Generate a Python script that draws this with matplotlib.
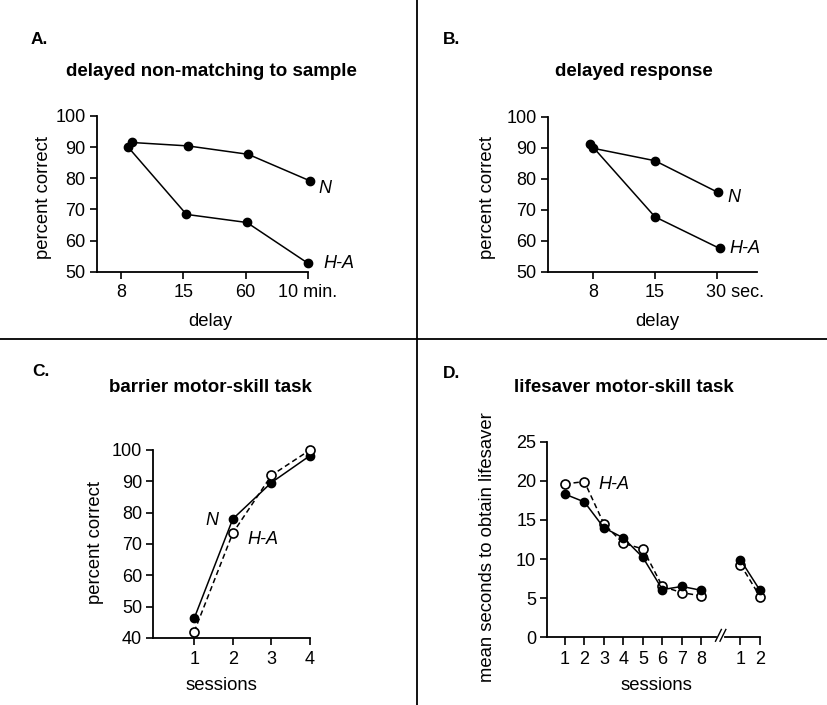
import matplotlib
matplotlib.use("Agg")
import matplotlib.pyplot as plt
import matplotlib.transforms as mtransforms
from matplotlib.lines import Line2D

plt.rcParams["font.family"] = ["Liberation Sans", "DejaVu Sans"]
plt.rcParams["font.size"] = 13

# ---- data ----
# A. delayed non-matching to sample
A_ticklabels = ["8", "15", "60", "10 min."]
A_n_x = [1.17, 2.07, 3.04, 4.04]
A_n = [91.5, 90.4, 87.7, 79.1]
A_ha_x = [1.11, 2.05, 3.02, 4.0]
A_ha = [90.1, 68.4, 65.8, 52.7]

# B. delayed response
B_ticklabels = ["8", "15", "30 sec."]
B_n_x = [1.0, 2.0, 3.02]
B_n = [89.8, 85.8, 75.6]
B_ha_x = [0.95, 2.0, 3.05]
B_ha = [91.2, 67.7, 57.5]

# C. barrier motor-skill task
C_sessions = [1, 2, 3, 4]
C_n = [46.3, 78.0, 89.6, 98.2]
C_ha = [42.0, 73.5, 91.9, 100.0]

# D. lifesaver motor-skill task (training sessions, then retention sessions)
D_train = [1, 2, 3, 4, 5, 6, 7, 8]
D_n_train = [18.3, 17.3, 14.0, 12.7, 10.2, 6.1, 6.5, 6.0]
D_ha_train = [19.6, 19.9, 14.5, 12.0, 11.3, 6.5, 5.7, 5.3]
D_retest = [10, 11]
D_retest_labels = ["1", "2"]
D_n_retest = [9.9, 6.0]
D_ha_retest = [9.3, 5.2]

W, H = 827, 705
fig = plt.figure(figsize=(W / 100, H / 100), dpi=100)

TICK_FS = 13
LABEL_FS = 13.3


def fx(px):
    return px / W


def fy(py):
    return 1 - py / H


def make_axes(left, top, right, bottom):
    ax = fig.add_axes([fx(left), fy(bottom), fx(right) - fx(left), fy(top) - fy(bottom)])
    for s in ("top", "right"):
        ax.spines[s].set_visible(False)
    for s in ("left", "bottom"):
        ax.spines[s].set_linewidth(1.3)
    ax.tick_params(direction="out", length=5, width=1.2, labelsize=TICK_FS, pad=3)
    ax.tick_params(axis="x", pad=4)
    ax.patch.set_alpha(0)
    return ax


def place_labels(ax, xl, xpos, yl, ypos):
    ax.set_xlabel(xl, fontsize=LABEL_FS)
    ax.xaxis.set_label_coords(fx(xpos[0]), fy(xpos[1]), transform=fig.transFigure)
    ax.xaxis.label.set_va("center")
    ax.set_ylabel(yl, fontsize=LABEL_FS)
    ax.yaxis.set_label_coords(fx(ypos[0]), fy(ypos[1]), transform=fig.transFigure)
    ax.yaxis.label.set_va("center")


def tag(ax, x, y, text, dx, dy, ha="left"):
    """Italic group label placed next to a data point, offset in points."""
    ax.annotate(text, (x, y), xytext=(dx, dy), textcoords="offset points",
                ha=ha, va="center", fontsize=13, style="italic", annotation_clip=False)


filled = dict(color="black", lw=1.1, marker="o", ms=6, mfc="black", mec="black", clip_on=False)
hollow = dict(color="black", lw=1.1, ls=(0, (3.5, 2.2)), marker="o", ms=6.5, mfc="white",
              mec="black", mew=1.2, clip_on=False)

# ---- panel A ----
axA = make_axes(96.7, 116, 308, 271.7)
axA.plot(A_n_x, A_n, **filled)
axA.plot(A_ha_x, A_ha, **filled)
axA.set_xlim(0.61, 4.0)
axA.set_ylim(50, 100)
axA.set_yticks([50, 60, 70, 80, 90, 100])
axA.set_xticks([1, 2, 3, 4])
axA.set_xticklabels(A_ticklabels)
place_labels(axA, "delay", (210, 322), "percent correct", (43, 197))
tag(axA, A_n_x[-1], A_n[-1], "N", 6, -5)
tag(axA, A_ha_x[-1], A_ha[-1], "H-A", 11, 0)

# ---- panel B ----
axB = make_axes(547.7, 116.7, 757.3, 271.7)
axB.plot(B_n_x, B_n, **filled)
axB.plot(B_ha_x, B_ha, **filled)
axB.set_xlim(0.26, 3.66)
axB.set_ylim(50, 100)
axB.set_yticks([50, 60, 70, 80, 90, 100])
axB.set_xticks([1, 2, 3])
axB.set_xticklabels(B_ticklabels)
shift = mtransforms.ScaledTranslation(18 / 100, 0, fig.dpi_scale_trans)
last = axB.get_xticklabels()[-1]
last.set_transform(last.get_transform() + shift)
place_labels(axB, "delay", (657, 322), "percent correct", (487, 197))
tag(axB, B_n_x[-1], B_n[-1], "N", 7, -4)
tag(axB, B_ha_x[-1], B_ha[-1], "H-A", 7, 0)

# ---- panel C ----
axC = make_axes(153.3, 450, 310, 638)
axC.plot(C_sessions, C_n, zorder=3, **filled)
axC.plot(C_sessions, C_ha, zorder=4, **hollow)
axC.set_xlim(-0.06, 4.0)
axC.set_ylim(40, 100)
axC.set_yticks([40, 50, 60, 70, 80, 90, 100])
axC.set_xticks(C_sessions)
place_labels(axC, "sessions", (221, 685), "percent correct", (95, 543))
tag(axC, C_sessions[1], C_n[1], "N", -10.5, -1, ha="right")
tag(axC, C_sessions[1], C_ha[1], "H-A", 10.5, -5)

# ---- panel D ----
axD = make_axes(547.3, 441.7, 760, 637.3)
axD.plot(D_train, D_ha_train, zorder=3, **hollow)
axD.plot(D_train, D_n_train, zorder=4, **filled)
axD.plot(D_retest, D_ha_retest, zorder=3, **hollow)
axD.plot(D_retest, D_n_retest, zorder=4, **filled)
axD.set_xlim(0.1, 11)
axD.set_ylim(0, 25)
axD.set_yticks([0, 5, 10, 15, 20, 25])
axD.set_xticks(D_train + D_retest)
axD.set_xticklabels([str(s) for s in D_train] + D_retest_labels)
axD.tick_params(axis="x", length=6)
# broken x axis between training and retention sessions
axD.spines["bottom"].set_visible(False)
bt = mtransforms.blended_transform_factory(axD.transData, axD.transAxes)
axD.add_line(Line2D([0.1, 8.72], [0, 0], transform=bt, color="black", lw=1.3, clip_on=False))
axD.add_line(Line2D([9.2, 11], [0, 0], transform=bt, color="black", lw=1.3, clip_on=False))
for x0 in (8.72, 8.95):
    axD.add_line(Line2D([x0, x0 + 0.3], [-0.02, 0.04], transform=bt, color="black", lw=1.0,
                        clip_on=False))
place_labels(axD, "sessions", (656, 685), "mean seconds to obtain lifesaver", (487, 547))
tag(axD, D_train[1], D_ha_train[1], "H-A", 10, -2)

# ---- panel letters and titles ----
for letter, (px, py) in {"A.": (31, 39), "B.": (443, 39), "C.": (32, 372), "D.": (443, 373)}.items():
    fig.text(fx(px), fy(py), letter, ha="left", va="center", fontsize=12.5, weight="bold")

titles = {
    "delayed non-matching to sample": (211, 72),
    "delayed response": (634, 72),
    "barrier motor-skill task": (210, 387),
    "lifesaver motor-skill task": (624, 387),
}
for t, (px, py) in titles.items():
    fig.text(fx(px), fy(py), t, ha="center", va="center", fontsize=13.5, weight="bold")

# ---- quadrant dividers ----
fig.add_artist(Line2D([0, 1], [fy(339), fy(339)], transform=fig.transFigure, color="black", lw=1.3))
fig.add_artist(Line2D([fx(417), fx(417)], [0, 1], transform=fig.transFigure, color="black", lw=1.3))

fig.savefig("out.png", dpi=100)
